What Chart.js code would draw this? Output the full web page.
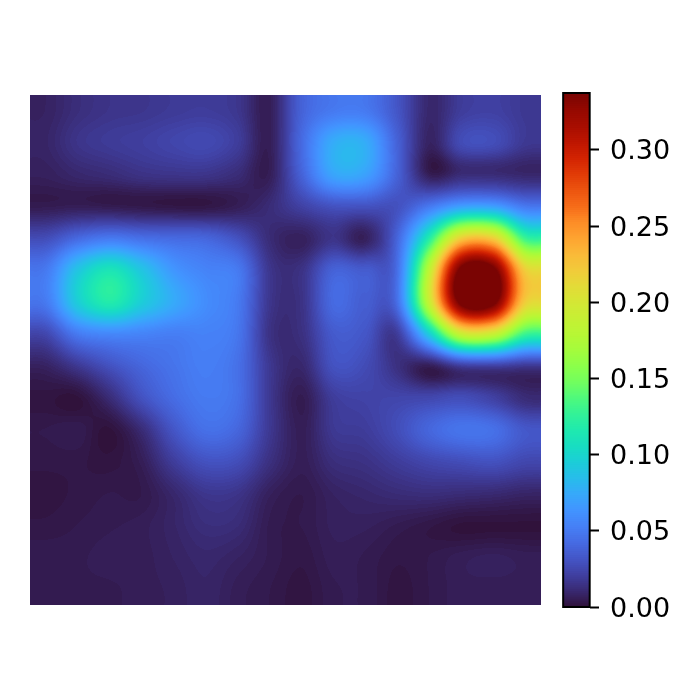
<!DOCTYPE html>
<html>
<head>
<meta charset="utf-8">
<style>
  html, body { margin: 0; padding: 0; background: #fff; }
  canvas { display: block; }
</style>
<script src="https://cdn.jsdelivr.net/npm/chart.js@4"></script>
</head>
<body>
<canvas id="chart" width="700" height="700"></canvas>
<script>
// Values, top row first, 16 x 16 cells
const row00 = [.008,.013,.016,.017,.019,.020,.017,.006,.038,.050,.050,.032,.010,.020,.022,.018];
const row01 = [.009,.016,.019,.021,.024,.026,.020,.006,.042,.076,.076,.038,.008,.027,.028,.018];
const row02 = [.007,.010,.012,.015,.016,.016,.012,.006,.038,.072,.070,.038,.006,.012,.012,.010];
const row03 = [.005,.006,.005,.004,.003,.003,.006,.012,.022,.030,.030,.030,.050,.070,.070,.050];
const row04 = [.028,.042,.050,.045,.042,.040,.030,.012,.007,.016,.007,.040,.120,.220,.220,.130];
const row05 = [.050,.090,.112,.090,.065,.055,.050,.017,.015,.038,.035,.045,.185,.345,.345,.220];
const row06 = [.050,.095,.118,.095,.075,.060,.050,.017,.015,.042,.036,.045,.190,.345,.345,.220];
const row07 = [.025,.050,.057,.055,.052,.054,.048,.015,.014,.034,.032,.020,.095,.190,.190,.130];
const row08 = [.008,.018,.030,.040,.047,.052,.045,.018,.010,.030,.027,.014,.006,.020,.022,.018];
const row09 = [.002,.001,.012,.030,.043,.050,.045,.018,.005,.020,.023,.024,.025,.028,.022,.012];
const row10 = [.004,.005,.001,.012,.032,.045,.040,.018,.006,.018,.020,.028,.040,.047,.045,.033];
const row11 = [.003,.003,.002,.006,.020,.030,.028,.014,.006,.013,.015,.020,.025,.028,.030,.025];
const row12 = [.002,.003,.004,.004,.010,.017,.016,.007,.004,.008,.010,.012,.013,.012,.011,.009];
const row13 = [.003,.004,.005,.006,.009,.013,.012,.005,.004,.007,.007,.005,.003,.001,.001,.001];
const row14 = [.005,.005,.006,.006,.008,.010,.008,.005,.003,.006,.005,.003,.004,.006,.007,.006];
const row15 = [.005,.005,.005,.006,.007,.009,.006,.004,.002,.005,.005,.002,.004,.006,.006,.006];
const gridRows = [row00,row01,row02,row03,row04,row05,row06,row07,row08,row09,row10,row11,row12,row13,row14,row15];

const colorbarTicks = [0, 0.05, 0.10, 0.15, 0.20, 0.25, 0.30];
const colorMax = 0.3373;

// Turbo colormap, every 8th entry of the 256 table
const turboStops = [
  [48,18,59],[57,42,115],[64,64,162],[68,86,199],[70,107,227],[70,128,246],[66,148,255],[55,168,250],
  [40,188,235],[28,205,216],[24,221,194],[31,233,175],[50,242,152],[78,249,125],[113,254,95],[139,255,75],
  [164,252,60],[183,247,53],[198,240,52],[212,231,53],[227,219,56],[241,203,58],[250,186,57],[254,164,49],
  [253,141,39],[246,108,25],[237,85,16],[225,59,7],[211,36,2],[190,22,1],[168,14,1],[150,9,1],[122,4,3]
];

const turboLut = [];
for (let i = 0; i < 256; i++) {
  const p = i / 255 * (turboStops.length - 1);
  const k = Math.min(Math.floor(p), turboStops.length - 2);
  const t = p - k;
  turboLut.push(turboStops[k].map((c, n) => Math.round(c + (turboStops[k + 1][n] - c) * t)));
}

function lutIndex(v) {
  return Math.max(0, Math.min(255, Math.floor(v / colorMax * 256)));
}

// Same bicubic kernel the image is resampled with
function cubic(a, b, c, d, t) {
  return b + 0.5 * t * (c - a + t * (2 * a - 5 * b + 4 * c - d + t * (3 * (b - c) + d - a)));
}

function sampleGrid(col, row) {
  const nr = gridRows.length, nc = gridRows[0].length;
  const x = col - 0.5, y = row - 0.5;
  const cx = Math.floor(x), cy = Math.floor(y);
  const at = (r, c) => gridRows[Math.max(0, Math.min(nr - 1, r))][Math.max(0, Math.min(nc - 1, c))];
  const vals = [-1, 0, 1, 2].map(dr =>
    cubic(at(cy + dr, cx - 1), at(cy + dr, cx), at(cy + dr, cx + 1), at(cy + dr, cx + 2), x - cx));
  return cubic(vals[0], vals[1], vals[2], vals[3], y - cy);
}

const heatmapPlugin = {
  id: 'heatmap',
  beforeDatasetsDraw(chart) {
    const { ctx, scales } = chart;
    const nr = gridRows.length, nc = gridRows[0].length;

    // Image
    const x0 = Math.round(scales.x.getPixelForValue(0));
    const x1 = Math.round(scales.x.getPixelForValue(nc));
    const y0 = Math.round(scales.y.getPixelForValue(0));
    const y1 = Math.round(scales.y.getPixelForValue(nr));
    const img = ctx.createImageData(x1 - x0, y1 - y0);
    for (let py = y0; py < y1; py++) {
      const row = scales.y.getValueForPixel(py + 0.5);
      for (let px = x0; px < x1; px++) {
        const col = scales.x.getValueForPixel(px + 0.5);
        const rgb = turboLut[lutIndex(sampleGrid(col, row))];
        const o = ((py - y0) * (x1 - x0) + (px - x0)) * 4;
        img.data[o] = rgb[0]; img.data[o + 1] = rgb[1]; img.data[o + 2] = rgb[2]; img.data[o + 3] = 255;
      }
    }
    ctx.putImageData(img, x0, y0);

    // Colorbar
    const barL = scales.x.getPixelForValue(nc + 0.69);
    const barR = scales.x.getPixelForValue(nc + 1.52);
    for (let i = 0; i < 256; i++) {
      const top = scales.cb.getPixelForValue((i + 1) / 256 * colorMax);
      const bot = scales.cb.getPixelForValue(i / 256 * colorMax);
      ctx.fillStyle = `rgb(${turboLut[i].join(',')})`;
      ctx.fillRect(barL, top - 0.5, barR - barL, bot - top + 1);
    }
    ctx.strokeStyle = '#000';
    ctx.lineWidth = 2;
    ctx.strokeRect(barL, scales.cb.getPixelForValue(colorMax), barR - barL,
      scales.cb.getPixelForValue(0) - scales.cb.getPixelForValue(colorMax));
  }
};

const cellPoints = [];
gridRows.forEach((vals, r) => vals.forEach((v, c) => cellPoints.push({ x: c + 0.5, y: r + 0.5, v })));

new Chart(document.getElementById('chart'), {
  type: 'scatter',
  data: { datasets: [{ data: cellPoints, pointRadius: 0, yAxisID: 'y' }] },
  options: {
    responsive: false,
    animation: false,
    layout: { padding: { left: 30, top: 93, bottom: 93, right: 0 } },
    plugins: { legend: { display: false }, tooltip: { enabled: false } },
    scales: {
      x: { type: 'linear', display: false, min: 0, max: 17.53 },
      y: { type: 'linear', display: false, reverse: true, min: -0.063, max: 16.063 },
      cb: {
        type: 'linear',
        position: 'right',
        min: 0,
        max: colorMax,
        afterBuildTicks: axis => { axis.ticks = colorbarTicks.map(value => ({ value })); },
        afterFit: axis => { axis.width = 110; },
        border: { display: false },
        grid: { drawOnChartArea: false, tickLength: 9, tickWidth: 2, tickColor: '#000' },
        ticks: {
          color: '#000',
          padding: 11,
          labelOffset: 2.5,
          font: { family: 'DejaVu Sans', size: 27 },
          callback: v => v.toFixed(2)
        }
      }
    }
  },
  plugins: [heatmapPlugin]
});
</script>
</body>
</html>
